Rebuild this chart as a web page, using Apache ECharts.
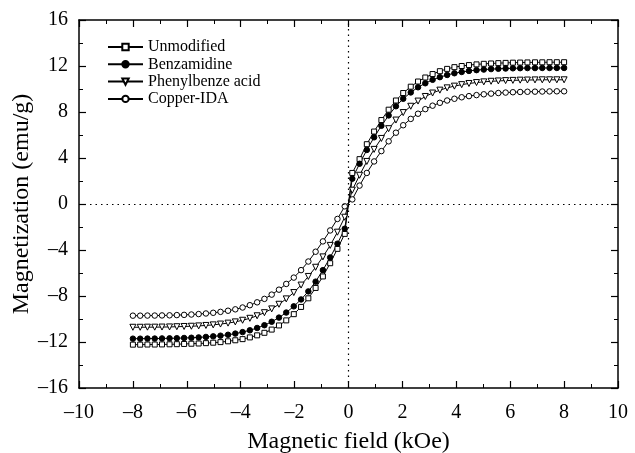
<!DOCTYPE html>
<html>
<head>
<meta charset="utf-8">
<script src="https://cdn.jsdelivr.net/npm/echarts@6/dist/echarts.min.js"></script>
<style>
  html, body { margin: 0; padding: 0; background: #fff; }
  #chart { width: 635px; height: 453px; }
</style>
</head>
<body>
<div id="chart"></div>
<script>
// magnetic field, kOe
const field = [-8.00, -7.73, -7.46, -7.19, -6.92, -6.64, -6.37, -6.10, -5.83, -5.56,
  -5.29, -5.02, -4.75, -4.47, -4.20, -3.93, -3.66, -3.39, -3.12, -2.85,
  -2.58, -2.31, -2.03, -1.76, -1.49, -1.22, -0.95, -0.68, -0.41, -0.14,
  0.14, 0.41, 0.68, 0.95, 1.22, 1.49, 1.76, 2.03, 2.31, 2.58,
  2.85, 3.12, 3.39, 3.66, 3.93, 4.20, 4.47, 4.75, 5.02, 5.29,
  5.56, 5.83, 6.10, 6.37, 6.64, 6.92, 7.19, 7.46, 7.73, 8.00]

// magnetization, emu/g
const unmodified = [-12.23, -12.23, -12.22, -12.22, -12.21, -12.2, -12.19, -12.17, -12.15, -12.13,
  -12.1, -12.06, -12.01, -11.94, -11.85, -11.75, -11.6, -11.42, -11.2, -10.92,
  -10.56, -10.12, -9.58, -8.95, -8.2, -7.3, -6.3, -5.15, -3.9, -2.6,
  2.7, 3.9, 5.2, 6.3, 7.3, 8.2, 9.0, 9.65, 10.2, 10.65,
  11.0, 11.3, 11.55, 11.75, 11.9, 12.0, 12.08, 12.14, 12.19, 12.22,
  12.25, 12.27, 12.29, 12.3, 12.31, 12.32, 12.32, 12.33, 12.33, 12.33]
const benzamidine = [-11.71, -11.71, -11.7, -11.7, -11.69, -11.68, -11.67, -11.65, -11.63, -11.6,
  -11.56, -11.51, -11.45, -11.37, -11.27, -11.14, -10.98, -10.78, -10.54, -10.24,
  -9.88, -9.44, -8.9, -8.3, -7.6, -6.75, -5.75, -4.65, -3.45, -2.15,
  2.2, 3.5, 4.7, 5.8, 6.8, 7.7, 8.5, 9.15, 9.7, 10.15,
  10.5, 10.8, 11.03, 11.22, 11.37, 11.48, 11.57, 11.64, 11.69, 11.73,
  11.76, 11.78, 11.8, 11.81, 11.82, 11.82, 11.83, 11.83, 11.83, 11.83]
const phenyl = [-10.72, -10.72, -10.71, -10.71, -10.7, -10.69, -10.67, -10.65, -10.63, -10.6,
  -10.56, -10.51, -10.44, -10.36, -10.25, -10.11, -9.94, -9.72, -9.45, -9.12,
  -8.72, -8.25, -7.7, -7.05, -6.3, -5.5, -4.6, -3.6, -2.45, -1.15,
  1.2, 2.5, 3.7, 4.75, 5.7, 6.55, 7.3, 7.95, 8.5, 8.95,
  9.35, 9.65, 9.9, 10.1, 10.25, 10.38, 10.48, 10.56, 10.62, 10.67,
  10.7, 10.73, 10.75, 10.77, 10.78, 10.79, 10.8, 10.8, 10.8, 10.8]
const copperIDA = [-9.71, -9.71, -9.7, -9.7, -9.69, -9.68, -9.66, -9.64, -9.61, -9.57,
  -9.52, -9.46, -9.38, -9.28, -9.16, -9.0, -8.8, -8.55, -8.25, -7.88,
  -7.45, -6.95, -6.4, -5.75, -5.0, -4.15, -3.25, -2.3, -1.3, -0.2,
  0.4, 1.6, 2.7, 3.7, 4.6, 5.45, 6.2, 6.85, 7.4, 7.85,
  8.25, 8.55, 8.8, 9.0, 9.15, 9.28, 9.38, 9.47, 9.54, 9.6,
  9.65, 9.69, 9.72, 9.74, 9.76, 9.77, 9.78, 9.79, 9.8, 9.8]

const names = ['Unmodified', 'Benzamidine', 'Phenylbenze acid', 'Copper-IDA']

const serif = 'Liberation Serif'
const dash = v => String(v).replace('-', '\u2013')

function pairs (arr) {
  return field.map((x, i) => [x, arr[i]])
}

function makeSeries (name, arr, symbol, fill, size, rotate) {
  return {
    name: name,
    type: 'line',
    data: pairs(arr),
    symbol: symbol,
    symbolSize: size,
    symbolRotate: rotate || 0,
    showAllSymbol: true,
    lineStyle: { color: '#000', width: 1 },
    itemStyle: { color: fill, borderColor: '#000', borderWidth: 1 },
    z: 3
  }
}

function axisCommon (min, max, interval) {
  return {
    type: 'value',
    min: min,
    max: max,
    interval: interval,
    nameMoveOverlap: false,
    axisLine: { onZero: false, lineStyle: { color: '#000', width: 1.5 } },
    axisTick: { inside: true, length: 7, lineStyle: { color: '#000', width: 1.2 } },
    minorTick: { show: true, splitNumber: 2, length: 4, lineStyle: { color: '#000', width: 1 } },
    splitLine: { show: false }
  }
}

const chart = echarts.init(document.getElementById('chart'))

const series = [
  makeSeries(names[0], unmodified, 'rect', '#fff', 5),
  makeSeries(names[1], benzamidine, 'circle', '#000', 5.5),
  makeSeries(names[2], phenyl, 'triangle', '#fff', 6, 180),
  makeSeries(names[3], copperIDA, 'circle', '#fff', 5.5)
]
series[0].markLine = {
  silent: true,
  symbol: 'none',
  label: { show: false },
  lineStyle: { color: '#000', type: [1.5, 4], width: 1.2 },
  data: [{ xAxis: 0 }, { yAxis: 0 }]
}

chart.setOption({
  animation: false,
  backgroundColor: '#fff',
  grid: { left: 79, right: 17, top: 20, bottom: 65, outerBoundsMode: 'none' },
  legend: {
    data: names,
    orient: 'vertical',
    left: 102,
    top: 34,
    itemWidth: 35,
    itemHeight: 8,
    itemGap: 1.3,
    textStyle: { fontFamily: serif, fontSize: 16, lineHeight: 16, color: '#000' }
  },
  xAxis: [
    Object.assign(axisCommon(-10, 10, 2), {
      position: 'bottom',
      name: 'Magnetic field (kOe)',
      nameLocation: 'middle',
      nameGap: 42,
      nameTextStyle: { fontFamily: serif, fontSize: 24, color: '#000' },
      axisLabel: { margin: 15, fontFamily: serif, fontSize: 20, color: '#000', formatter: dash }
    }),
    Object.assign(axisCommon(-10, 10, 2), {
      position: 'top',
      axisLabel: { show: false }
    })
  ],
  yAxis: [
    Object.assign(axisCommon(-16, 16, 4), {
      position: 'left',
      name: 'Magnetization (emu/g)',
      nameLocation: 'middle',
      nameGap: 45,
      nameTextStyle: { fontFamily: serif, fontSize: 24, color: '#000' },
      axisLabel: { margin: 11, fontFamily: serif, fontSize: 20, color: '#000', formatter: dash }
    }),
    Object.assign(axisCommon(-16, 16, 4), {
      position: 'right',
      axisLabel: { show: false }
    })
  ],
  series: series
})
</script>
</body>
</html>
